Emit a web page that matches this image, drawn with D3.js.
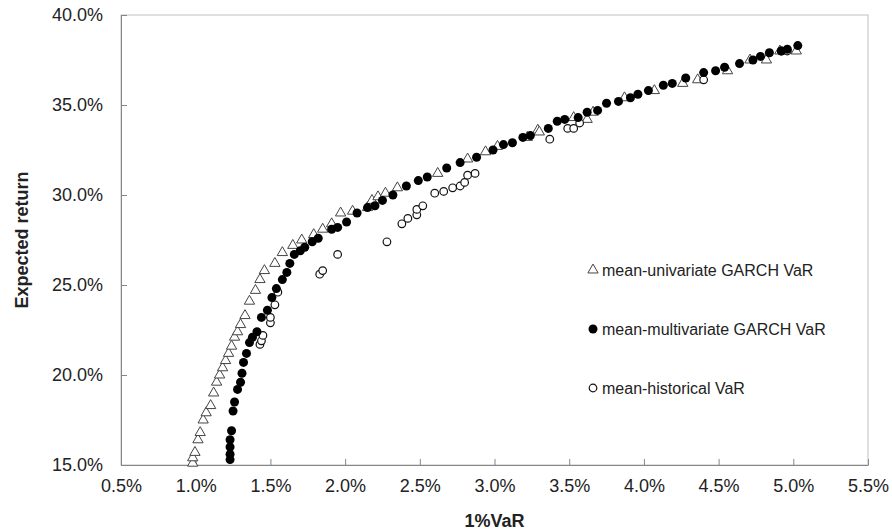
<!DOCTYPE html>
<html>
<head>
<meta charset="utf-8">
<script src="https://cdn.jsdelivr.net/npm/d3@7"></script>
<style>
	body { margin: 0; background: #fff; }
	svg text { font-family: "Liberation Sans", Arial, sans-serif; fill: #222; }
	.tick text { font-size: 18px; }
	.title { font-size: 18px; font-weight: bold; }
	.legend text { font-size: 16px; }
</style>
</head>
<body>
<div id="chart"></div>
<script>

// series values: [1%VaR (%), expected return (%)]
var univariate = [
	[0.98, 15.1], [0.98, 15.4], [0.995, 15.7], [1.015, 16.4], [1.03, 16.8], [1.05, 17.5],
	[1.07, 17.9], [1.10, 18.3], [1.12, 19.0], [1.14, 19.6], [1.16, 20.0], [1.18, 20.4],
	[1.20, 20.8], [1.22, 21.2], [1.24, 21.6], [1.26, 22.1], [1.28, 22.4], [1.30, 22.8],
	[1.33, 23.3], [1.36, 24.1], [1.40, 24.7], [1.43, 25.3], [1.46, 25.8], [1.53, 26.2],
	[1.58, 26.8], [1.65, 27.2], [1.71, 27.5], [1.79, 27.8], [1.85, 28.1], [1.91, 28.4],
	[1.97, 29.0], [2.05, 29.1], [2.15, 29.3], [2.18, 29.7], [2.22, 29.9], [2.27, 30.1],
	[2.35, 30.4], [2.62, 31.2], [2.82, 32.0], [2.94, 32.4], [3.02, 32.7], [3.22, 33.2],
	[3.29, 33.6], [3.30, 33.5], [3.53, 34.3], [3.62, 34.2], [3.66, 34.6], [3.87, 35.4],
	[4.07, 35.8], [4.26, 36.2], [4.36, 36.4], [4.56, 36.9], [4.71, 37.5], [4.82, 37.5],
	[4.91, 38.0], [5.02, 38.0]
];

var multivariate = [
	[1.23, 15.3], [1.23, 15.6], [1.23, 16.0], [1.23, 16.4], [1.24, 16.9], [1.25, 18.0],
	[1.26, 18.5], [1.28, 19.2], [1.30, 19.6], [1.31, 20.1], [1.32, 20.7], [1.34, 21.2],
	[1.36, 21.8], [1.38, 22.1], [1.41, 22.4], [1.44, 23.2], [1.48, 23.6], [1.51, 24.3],
	[1.54, 24.8], [1.58, 25.3], [1.61, 25.7], [1.63, 26.2], [1.66, 26.7], [1.70, 26.9],
	[1.73, 27.1], [1.78, 27.4], [1.82, 27.6], [1.91, 28.1], [1.95, 28.2], [2.01, 28.5],
	[2.08, 29.0], [2.15, 29.3], [2.20, 29.4], [2.25, 29.7], [2.32, 30.0], [2.41, 30.5],
	[2.49, 30.8], [2.55, 31.0], [2.68, 31.5], [2.77, 31.8], [2.88, 32.1], [2.99, 32.5],
	[3.06, 32.8], [3.12, 32.9], [3.19, 33.2], [3.24, 33.3], [3.36, 33.7], [3.42, 34.1],
	[3.47, 34.2], [3.56, 34.3], [3.62, 34.6], [3.69, 34.7], [3.75, 35.1], [3.83, 35.2],
	[3.91, 35.4], [3.96, 35.6], [4.03, 35.8], [4.13, 36.1], [4.19, 36.2], [4.28, 36.5],
	[4.40, 36.8], [4.48, 36.9], [4.54, 37.1], [4.64, 37.3], [4.73, 37.5], [4.78, 37.7],
	[4.84, 37.9], [4.92, 38.0], [4.96, 38.1], [5.03, 38.3]
];

var historical = [
	[1.43, 21.7], [1.44, 21.9], [1.45, 22.2], [1.50, 22.9], [1.50, 23.2], [1.53, 23.9],
	[1.55, 24.6], [1.83, 25.6], [1.85, 25.8], [1.95, 26.7], [2.28, 27.4], [2.38, 28.4],
	[2.42, 28.7], [2.48, 28.9], [2.48, 29.2], [2.52, 29.4], [2.60, 30.1], [2.66, 30.2],
	[2.72, 30.4], [2.77, 30.5], [2.80, 30.7], [2.82, 31.1], [2.87, 31.2], [3.37, 33.1],
	[3.49, 33.7], [3.53, 33.7], [3.57, 34.0], [4.40, 36.4], [4.92, 38.0], [4.96, 38.0]
];

var xTicks = [0.5, 1.0, 1.5, 2.0, 2.5, 3.0, 3.5, 4.0, 4.5, 5.0, 5.5];
var yTicks = [15, 20, 25, 30, 35, 40];
var legendLabels = ["mean-univariate GARCH VaR", "mean-multivariate GARCH VaR", "mean-historical VaR"];

var margin = {top: 15, right: 24, bottom: 66, left: 121},
	width = 892 - margin.left - margin.right,
	height = 531 - margin.top - margin.bottom;

var svg = d3.select("#chart").append("svg")
	.attr("width", 892)
	.attr("height", 531);

var g = svg.append("g")
	.attr("transform", "translate(" + margin.left + "," + margin.top + ")");

var x = d3.scaleLinear().domain([0.5, 5.5]).range([0, width]);
var y = d3.scaleLinear().domain([15, 40]).range([height, 0]);

// plot frame
g.append("rect")
	.attr("width", width)
	.attr("height", height)
	.attr("fill", "none")
	.attr("stroke", "#c0c0c0");

// axes, ticks pointing inward
var xAxis = d3.axisBottom(x)
	.tickValues(xTicks)
	.tickSizeInner(-6)
	.tickSizeOuter(0)
	.tickPadding(14)
	.tickFormat(function(d) { return d.toFixed(1) + "%"; });

var yAxis = d3.axisLeft(y)
	.tickValues(yTicks)
	.tickSizeInner(-6)
	.tickSizeOuter(0)
	.tickPadding(18)
	.tickFormat(function(d) { return d.toFixed(1) + "%"; });

var gx = g.append("g")
	.attr("transform", "translate(0," + height + ")")
	.call(xAxis);

var gy = g.append("g").call(yAxis);

[gx, gy].forEach(function(a) {
	a.select(".domain").attr("stroke", "#868686");
	a.selectAll(".tick line").attr("stroke", "#868686");
	a.selectAll(".tick text").attr("fill", "#222");
});

// axis titles
g.append("text")
	.attr("class", "title")
	.attr("text-anchor", "middle")
	.attr("x", width / 2)
	.attr("y", height + 62)
	.text("1%VaR");

g.append("text")
	.attr("class", "title")
	.attr("text-anchor", "middle")
	.attr("dy", "0.35em")
	.attr("transform", "translate(" + (-99) + "," + (height / 2) + ")rotate(-90)")
	.text("Expected return");

// markers
var tri = d3.symbol().type(d3.symbolTriangle).size(46);

g.append("g").selectAll("path")
	.data(univariate)
	.enter().append("path")
	.attr("d", tri)
	.attr("transform", function(d) { return "translate(" + x(d[0]) + "," + y(d[1]) + ")"; })
	.attr("fill", "#fff")
	.attr("stroke", "#444")
	.attr("stroke-width", 1);

g.append("g").selectAll("circle")
	.data(historical)
	.enter().append("circle")
	.attr("cx", function(d) { return x(d[0]); })
	.attr("cy", function(d) { return y(d[1]); })
	.attr("r", 3.8)
	.attr("fill", "#fff")
	.attr("stroke", "#111")
	.attr("stroke-width", 1.2);

g.append("g").selectAll("circle")
	.data(multivariate)
	.enter().append("circle")
	.attr("cx", function(d) { return x(d[0]); })
	.attr("cy", function(d) { return y(d[1]); })
	.attr("r", 4.5)
	.attr("fill", "#000");

// legend
var legend = g.append("g")
	.attr("class", "legend")
	.attr("transform", "translate(" + 472 + "," + 255 + ")");

var rowGap = 59;

legend.append("path")
	.attr("d", tri)
	.attr("fill", "#fff")
	.attr("stroke", "#444");

legend.append("circle")
	.attr("cy", rowGap)
	.attr("r", 4.5)
	.attr("fill", "#000");

legend.append("circle")
	.attr("cy", rowGap * 2)
	.attr("r", 3.8)
	.attr("fill", "#fff")
	.attr("stroke", "#111")
	.attr("stroke-width", 1.2);

legend.selectAll("text")
	.data(legendLabels)
	.enter().append("text")
	.attr("x", 9)
	.attr("y", function(d, i) { return i * rowGap; })
	.attr("dy", "0.35em")
	.text(function(d) { return d; });

</script>
</body>
</html>
